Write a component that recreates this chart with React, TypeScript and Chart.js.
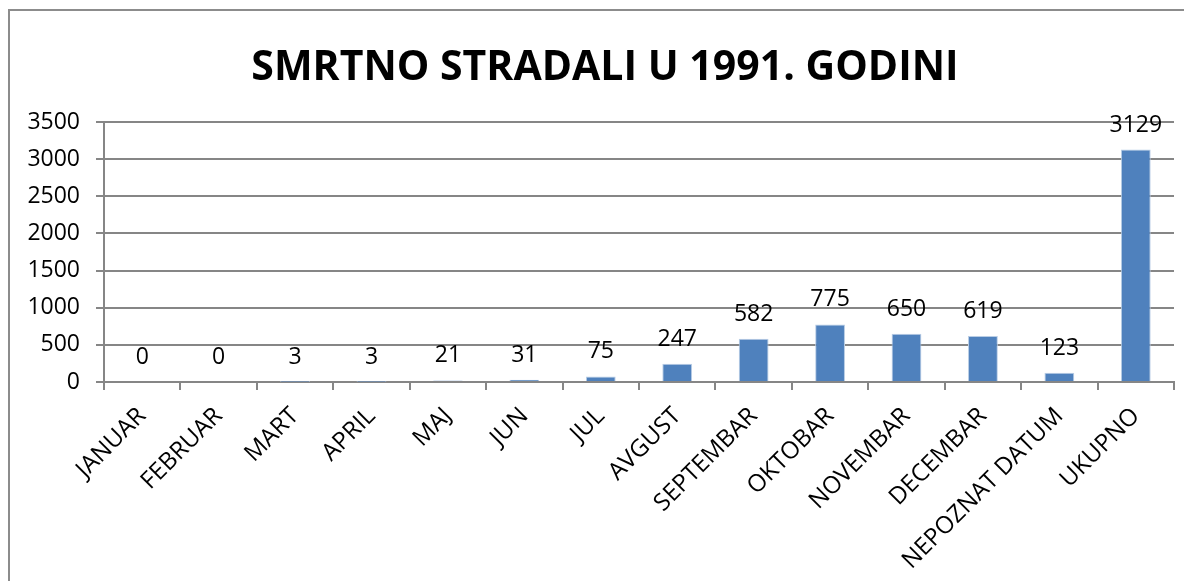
import React, { useEffect, useRef } from "react";
import { Chart, registerables } from "chart.js";

Chart.register(...registerables);

const TITLE = "SMRTNO STRADALI U 1991. GODINI";
const categories = [
  "JANUAR",
  "FEBRUAR",
  "MART",
  "APRIL",
  "MAJ",
  "JUN",
  "JUL",
  "AVGUST",
  "SEPTEMBAR",
  "OKTOBAR",
  "NOVEMBAR",
  "DECEMBAR",
  "NEPOZNAT DATUM",
  "UKUPNO",
];
const values = [0, 0, 3, 3, 21, 31, 75, 247, 582, 775, 650, 619, 123, 3129];
const yMin = 0;
const yMax = 3500;
const yStep = 500;

const FONT = "'Open Sans', 'Liberation Sans', sans-serif";

const dataLabelPlugin = {
  id: "dataLabels",
  afterDatasetsDraw(chart: any) {
    const ctx = chart.ctx;
    const meta = chart.getDatasetMeta(0);
    ctx.save();
    ctx.font = `23px ${FONT}`;
    ctx.fillStyle = "#000";
    ctx.textAlign = "center";
    ctx.textBaseline = "bottom";
    meta.data.forEach((bar: any, i: number) => {
      ctx.fillText(String(values[i]), bar.x, bar.y - 13);
    });
    ctx.restore();
  },
};

const titlePlugin = {
  id: "customTitle",
  afterDraw(chart: any) {
    const ctx = chart.ctx;
    ctx.save();
    ctx.font = `bold 41px ${FONT}`;
    ctx.fillStyle = "#000";
    ctx.textAlign = "center";
    ctx.textBaseline = "middle";
    ctx.fillText(TITLE, 595, 57);
    ctx.restore();
  },
};

export default function App() {
  const canvasRef = useRef<HTMLCanvasElement | null>(null);

  useEffect(() => {
    document.documentElement.style.overflow = "hidden";
    const canvas = canvasRef.current;
    if (!canvas) return;
    const chart = new Chart(canvas, {
      type: "bar",
      data: {
        labels: categories,
        datasets: [
          {
            data: values,
            backgroundColor: "#4F81BD",
            borderColor: "#B9CDE5",
            borderWidth: 1,
            barPercentage: 0.39,
            categoryPercentage: 1,
          },
        ],
      },
      options: {
        animation: false,
        responsive: false,
        maintainAspectRatio: false,
        layout: { padding: { left: 9, right: 18, top: 111, bottom: 0 } },
        plugins: {
          legend: { display: false },
          tooltip: { enabled: false },
          title: { display: false },
        },
        scales: {
          x: {
            afterFit: (scale: any) => {
              scale.height = 200;
            },
            grid: {
              display: true,
              drawOnChartArea: false,
              drawTicks: true,
              tickLength: 8,
              color: "#868686",
              lineWidth: 2,
              offset: true,
            },
            border: { display: true, color: "#868686", width: 2 },
            ticks: {
              color: "#000",
              font: { family: FONT, size: 24 },
              maxRotation: 45,
              minRotation: 45,
              autoSkip: false,
              padding: 12,
            },
          },
          y: {
            min: yMin,
            max: yMax,
            afterFit: (scale: any) => {
              scale.width = 85;
            },
            grid: {
              color: "#868686",
              lineWidth: 2,
              tickLength: 8,
              drawTicks: true,
            },
            border: { display: true, color: "#868686", width: 2 },
            ticks: {
              stepSize: yStep,
              color: "#000",
              font: { family: FONT, size: 23 },
              padding: 16,
              callback: (v: any) => String(v),
            },
          },
        },
      },
      plugins: [dataLabelPlugin, titlePlugin],
    });
    return () => chart.destroy();
  }, []);

  return (
    <div
      style={{
        width: 1184,
        height: 573,
        boxSizing: "border-box",
        borderTop: "2px solid #8c8c8c",
        borderLeft: "2px solid #8c8c8c",
        overflow: "hidden",
        marginTop: 1,
      }}
    >
      <canvas ref={canvasRef} width={1182} height={571} style={{ display: "block" }} />
    </div>
  );
}
